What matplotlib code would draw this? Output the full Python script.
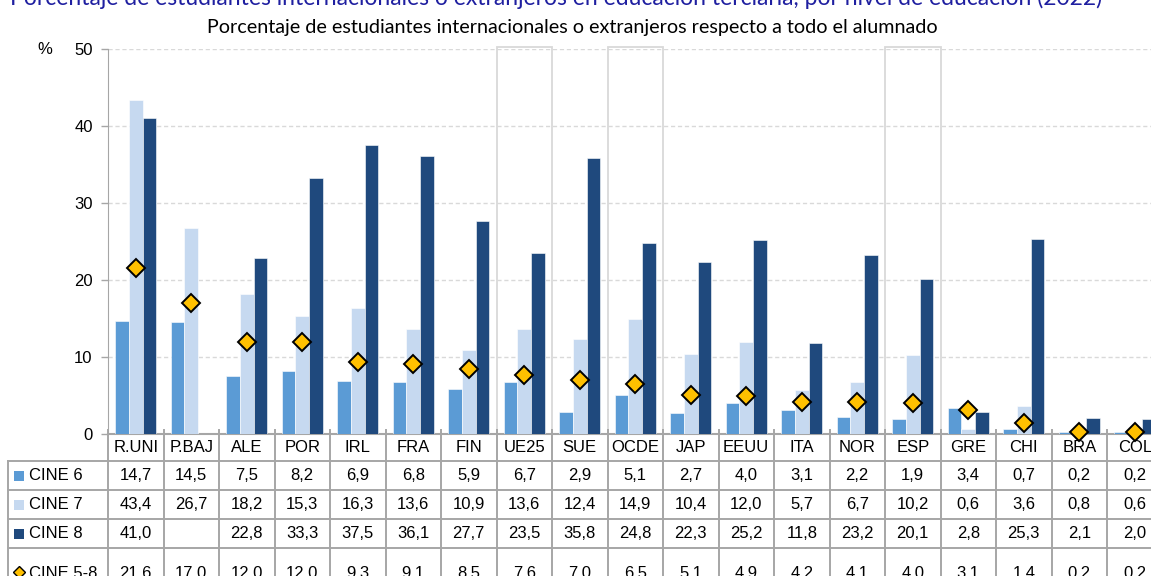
import numpy as np
import matplotlib
matplotlib.use("Agg")
import matplotlib.pyplot as plt
from matplotlib.patches import Rectangle

countries = ["R.UNI", "P.BAJ", "ALE", "POR", "IRL", "FRA", "FIN", "UE25", "SUE", "OCDE",
             "JAP", "EEUU", "ITA", "NOR", "ESP", "GRE", "CHI", "BRA", "COL"]
cine6 = [14.7, 14.5, 7.5, 8.2, 6.9, 6.8, 5.9, 6.7, 2.9, 5.1, 2.7, 4.0, 3.1, 2.2, 1.9, 3.4, 0.7, 0.2, 0.2]
cine7 = [43.4, 26.7, 18.2, 15.3, 16.3, 13.6, 10.9, 13.6, 12.4, 14.9, 10.4, 12.0, 5.7, 6.7, 10.2, 0.6, 3.6, 0.8, 0.6]
cine8 = [41.0, np.nan, 22.8, 33.3, 37.5, 36.1, 27.7, 23.5, 35.8, 24.8, 22.3, 25.2, 11.8, 23.2, 20.1, 2.8, 25.3, 2.1, 2.0]
cine58 = [21.6, 17.0, 12.0, 12.0, 9.3, 9.1, 8.5, 7.6, 7.0, 6.5, 5.1, 4.9, 4.2, 4.1, 4.0, 3.1, 1.4, 0.2, 0.2]
highlight = ["UE25", "OCDE", "ESP"]
series_names = ["CINE 6", "CINE 7", "CINE 8", "CINE 5-8"]
yticks = [0, 10, 20, 30, 40, 50]

title = "Porcentaje de estudiantes internacionales o extranjeros en educación terciaria, por nivel de educación (2022)"
subtitle = "Porcentaje de estudiantes internacionales o extranjeros respecto a todo el alumnado"

c6, c7, c8 = "#5B9BD5", "#C6D9F0", "#1F497D"
cy = "#FFC000"
gridc = "#D9D9D9"
tabc = "#A6A6A6"
plt.rcParams['font.family'] = ['Liberation Sans', 'DejaVu Sans']

W, H = 1151, 576
colw = 55.5
n = len(countries)
fig = plt.figure(figsize=(W / 100, H / 100), dpi=100)

ax_left = 108
ax_bottom = 434
ax_top = 49
ax = fig.add_axes([ax_left / W, (H - ax_bottom) / H, n * colw / W, (ax_bottom - ax_top) / H])
x = np.arange(n)
bw = 0.245
ax.bar(x - bw, cine6, bw, color=c6, edgecolor="white", linewidth=0.4, zorder=3)
ax.bar(x, cine7, bw, color=c7, edgecolor="white", linewidth=0.4, zorder=3)
ax.bar(x + bw, np.nan_to_num(cine8), bw, color=c8, edgecolor="white", linewidth=0.4, zorder=3)
ax.plot(x, cine58, linestyle="none", marker="D", markersize=9.5, markerfacecolor=cy,
        markeredgecolor="black", markeredgewidth=1.4, zorder=5, clip_on=False)
ax.set_xlim(-0.5, n - 0.5)
ax.set_ylim(0, 50)
ax.set_yticks(yticks)
ax.set_yticklabels([str(v) for v in yticks], fontsize=12)
ax.tick_params(axis="y", direction="out", length=5, color=tabc, width=1, pad=6)
ax.set_xticks([])
for sp in ["top", "right"]:
    ax.spines[sp].set_visible(False)
ax.spines["left"].set_color(tabc)
ax.spines["bottom"].set_color(tabc)
ax.spines["bottom"].set_linewidth(1.5)
ax.yaxis.grid(True, linestyle=(0, (3, 2)), color=gridc, linewidth=1, zorder=0)
ax.set_axisbelow(True)
for i, c in enumerate(countries):
    if c in highlight:
        ax.add_patch(Rectangle((i - 0.5, 0), 1, 50.28, fill=False, edgecolor=gridc,
                               linewidth=1.3, zorder=2, clip_on=False))
fig.text(45 / W, 1 - 50 / H, "%", fontsize=12, ha="center", va="center")

# table
tab_left = 8
tx0 = -0.5 - (ax_left - tab_left) / colw
tax = fig.add_axes([tab_left / W, 0, (ax_left - tab_left + n * colw) / W, (H - ax_bottom) / H])
tax.set_xlim(tx0, n - 0.5)
tax.set_ylim(H - ax_bottom, 0)
tax.axis("off")
rows_y = [0, 27, 56, 85, 114, 160]
lk = dict(color=tabc, linewidth=1.4, clip_on=False)
for yy in rows_y[1:5]:
    tax.plot([tx0, n - 0.5], [yy, yy], **lk)
for i in range(n + 1):
    tax.plot([i - 0.5, i - 0.5], [-4, 160], **lk)
tax.plot([tx0, tx0], [27, 160], **lk)

for i, c in enumerate(countries):
    tax.text(i, 14, c, ha="center", va="center", fontsize=12, clip_on=False)

def fmt(v):
    if v is None or (isinstance(v, float) and np.isnan(v)):
        return ""
    return f"{v:.1f}".replace(".", ",")

data_rows = [cine6, cine7, cine8, cine58]
centers = [41.5, 70.5, 99.5, 139.5]
for r, (vals, yc) in enumerate(zip(data_rows, centers)):
    for i, v in enumerate(vals):
        tax.text(i, yc, fmt(v), ha="center", va="center", fontsize=12, clip_on=False)

# legend keys
kx = tx0 + 11 / colw
tx_lab = tx0 + 21 / colw
for r, (name, yc) in enumerate(zip(series_names, centers)):
    if r < 3:
        col = [c6, c7, c8][r]
        tax.add_patch(Rectangle((kx - 5 / colw, yc - 5), 10 / colw, 10, facecolor=col,
                                edgecolor="none", clip_on=False))
    else:
        tax.plot([kx], [yc - 2], linestyle="none", marker="D", markersize=6, markerfacecolor=cy,
                 markeredgecolor="black", markeredgewidth=1.0, clip_on=False)
    tax.text(tx_lab, yc, name, ha="left", va="center", fontsize=12, clip_on=False)

fig.text(556 / W, 1 - (-2) / H, title, fontsize=16.5, color="#1F1FA0", ha="center", va="center",
         family=["Lato", "DejaVu Sans"])
fig.text(572 / W, 1 - 27 / H, subtitle, fontsize=14.2, color="black", ha="center", va="center",
         family=["Lato", "DejaVu Sans"])

fig.savefig("out.png", dpi=100)
